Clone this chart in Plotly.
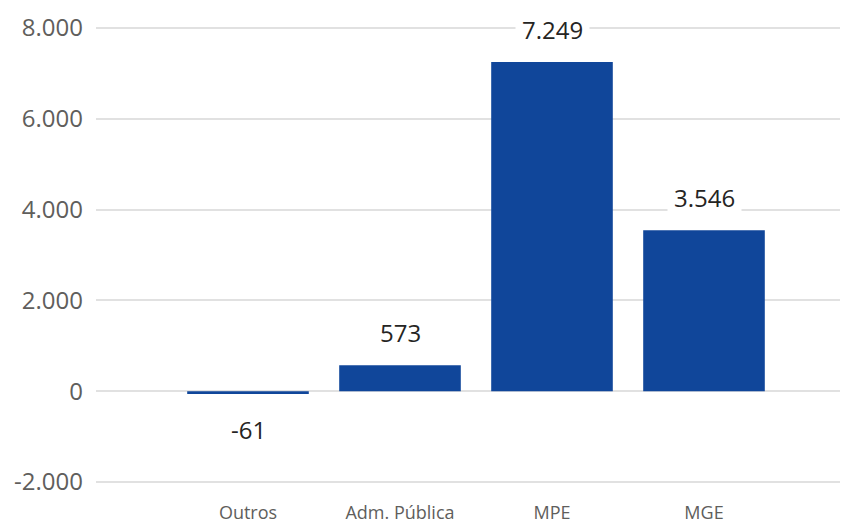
import plotly.graph_objects as go

categories = ["Outros", "Adm. Pública", "MPE", "MGE"]
values = [-61, 573, 7249, 3546]
y_ticks = [-2000, 0, 2000, 4000, 6000, 8000]

BAR_COLOR = "#10469A"

def fmt(v):
    return f"{v:,}".replace(",", ".")

fig = go.Figure()
fig.add_trace(go.Bar(
    x=categories, y=values,
    marker=dict(color=BAR_COLOR, line=dict(width=0)),
    hoverinfo="skip",
))

for c, v in zip(categories, values):
    fig.add_annotation(
        x=c, y=v, text=fmt(v), showarrow=False,
        yanchor="middle", yshift=33 if v >= 0 else -36,
        bgcolor="white", borderpad=6,
        font=dict(family="Open Sans", size=24, color="#252423"),
    )

fig.update_layout(
    width=848, height=523,
    margin=dict(l=88, r=0, t=2, b=41),
    plot_bgcolor="white", paper_bgcolor="white",
    separators=",.",
    bargap=0.2,
    showlegend=False,
    xaxis=dict(
        type="category", range=[-1.0, 4.0], automargin=False,
        showgrid=False, showline=False, zeroline=False,
        ticks="", ticklabelstandoff=10,
        tickfont=dict(family="Open Sans", size=18, color="#605E5C"),
    ),
    yaxis=dict(
        range=[-2176, 8397], tickvals=y_ticks,
        ticktext=[fmt(t) for t in y_ticks], automargin=False,
        showgrid=True, gridcolor="#E1E1E1", gridwidth=1.5,
        zeroline=False, showline=False, ticks="",
        ticklabelstandoff=12,
        tickfont=dict(family="Open Sans", size=24, color="#605E5C"),
    ),
)

fig.write_html("out.html")
